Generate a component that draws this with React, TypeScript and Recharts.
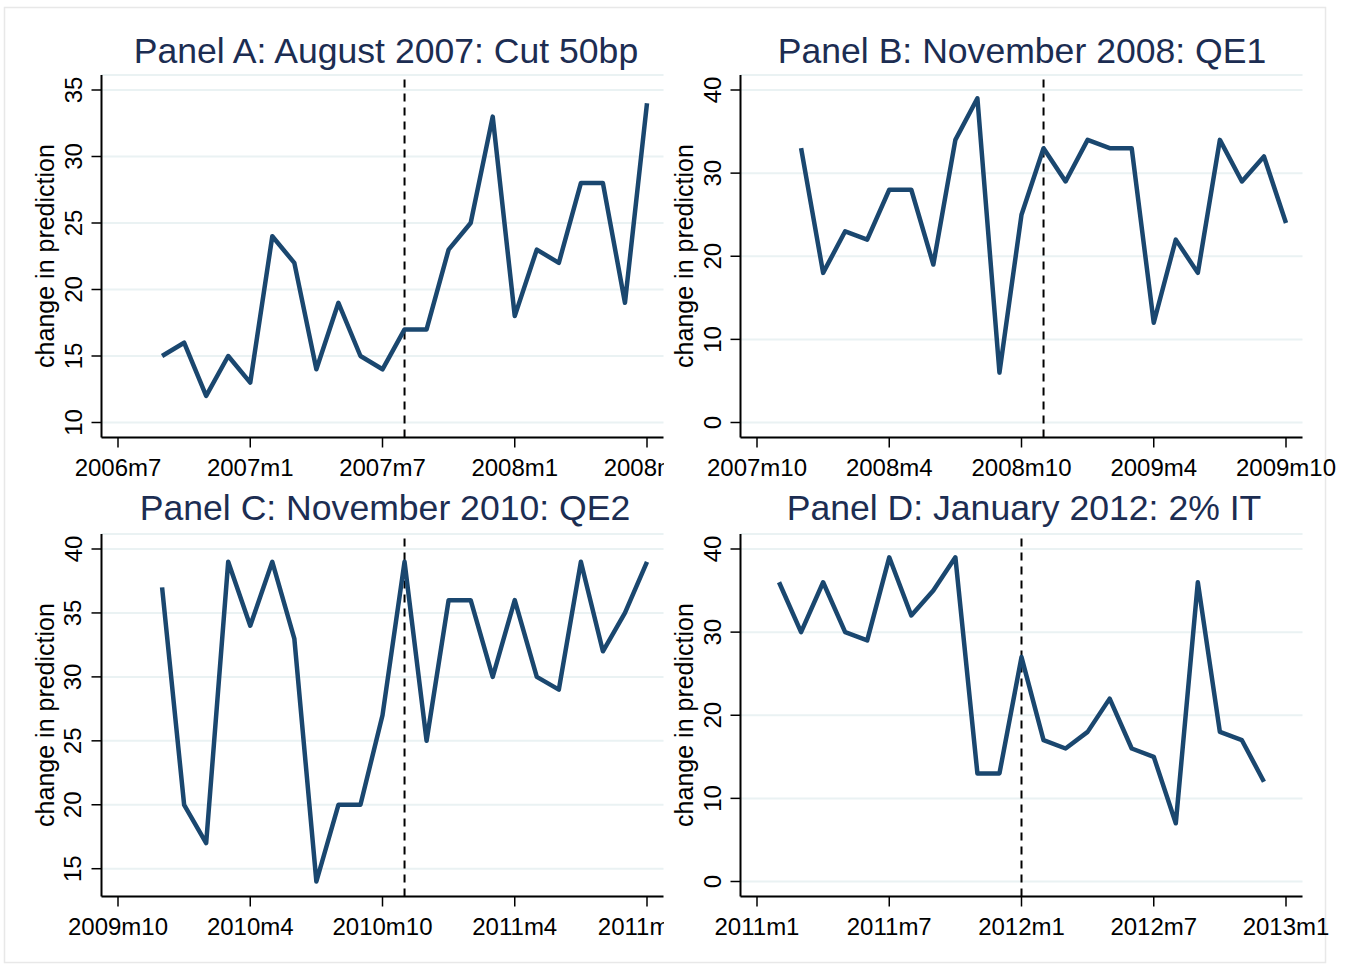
import React from "react";
import { LineChart, Line, XAxis, YAxis, CartesianGrid, ReferenceLine } from "recharts";

const FONT = "'Liberation Sans', Arial, Helvetica, sans-serif";
const NAVY = "#1a476f";
const TITLE_COLOR = "#1c2d52";
const GRID = "#eaf2f3";

// monthly values, consecutive months from the start month
const panelAStart = "2006m9";
const panelAValues = [15, 16, 12, 15, 13, 24, 22, 14, 19, 15, 14, 17, 17, 23, 25, 33, 18, 23, 22, 28, 28, 19, 34];
const panelAXTicks = ["2006m7", "2007m1", "2007m7", "2008m1", "2008m7"];
const panelAYTicks = [10, 15, 20, 25, 30, 35];

const panelBStart = "2007m12";
const panelBValues = [33, 18, 23, 22, 28, 28, 19, 34, 39, 6, 25, 33, 29, 34, 33, 33, 12, 22, 18, 34, 29, 32, 24];
const panelBXTicks = ["2007m10", "2008m4", "2008m10", "2009m4", "2009m10"];
const panelBYTicks = [0, 10, 20, 30, 40];

const panelCStart = "2009m12";
const panelCValues = [37, 20, 17, 39, 34, 39, 33, 14, 20, 20, 27, 39, 25, 36, 36, 30, 36, 30, 29, 39, 32, 35, 39];
const panelCXTicks = ["2009m10", "2010m4", "2010m10", "2011m4", "2011m10"];
const panelCYTicks = [15, 20, 25, 30, 35, 40];

const panelDStart = "2011m2";
const panelDValues = [36, 30, 36, 30, 29, 39, 32, 35, 39, 13, 13, 27, 17, 16, 18, 22, 16, 15, 7, 36, 18, 17, 12];
const panelDXTicks = ["2011m1", "2011m7", "2012m1", "2012m7", "2013m1"];
const panelDYTicks = [0, 10, 20, 30, 40];

const monthIndex = (s: string) => {
  const [y, m] = s.split("m").map(Number);
  return y * 12 + m - 1;
};
const monthLabel = (i: number) => `${Math.floor(i / 12)}m${(i % 12) + 1}`;

const XTick = (props: any) => {
  const { x, y, payload } = props;
  return (
    <text x={x} y={y + 17} textAnchor="middle" fontSize={24} fontFamily={FONT} fill="#000">
      {monthLabel(payload.value)}
    </text>
  );
};

const YTick = (props: any) => {
  const { x, y, payload } = props;
  return (
    <text
      x={x}
      y={y}
      transform={`rotate(-90 ${x} ${y})`}
      textAnchor="middle"
      fontSize={24}
      fontFamily={FONT}
      fill="#000"
    >
      {payload.value}
    </text>
  );
};

type PanelProps = {
  left: number;
  top: number;
  width: number;
  start: string;
  values: number[];
  xTicks: string[];
  yTicks: number[];
  event: string;
};

function Panel({ left, top, width, start, values, xTicks, yTicks, event }: PanelProps) {
  const s = monthIndex(start);
  const data = values.map((v, i) => ({ t: s + i, v }));
  const xt = xTicks.map(monthIndex);
  const lo = Math.min(...values, ...yTicks);
  const hi = Math.max(...values, ...yTicks);
  return (
    <div style={{ position: "absolute", left, top, width, height: 500, overflow: "hidden" }}>
      <LineChart
        width={width}
        height={500}
        data={data}
        margin={{ top: 75, left: 0, right: width - 663.5, bottom: 12.5 }}
      >
        <CartesianGrid horizontal vertical={false} stroke={GRID} strokeWidth={2} />
        <XAxis
          type="number"
          dataKey="t"
          domain={[xt[0], xt[xt.length - 1]]}
          ticks={xt}
          interval={0}
          padding={{ left: 16.5, right: 16.5 }}
          height={50}
          tick={<XTick />}
          tickSize={10}
          tickMargin={11}
          axisLine={{ stroke: "#000", strokeWidth: 2 }}
          tickLine={{ stroke: "#000", strokeWidth: 1.5 }}
        />
        <YAxis
          type="number"
          domain={[lo, hi]}
          ticks={yTicks}
          interval={0}
          padding={{ top: 15, bottom: 15 }}
          width={101.5}
          tick={<YTick />}
          tickSize={10}
          tickMargin={10}
          axisLine={{ stroke: "#000", strokeWidth: 2 }}
          tickLine={{ stroke: "#000", strokeWidth: 1.5 }}
        />
        <ReferenceLine x={monthIndex(event)} stroke="#000" strokeWidth={2} strokeDasharray="8 6" />
        <Line
          type="linear"
          dataKey="v"
          stroke={NAVY}
          strokeWidth={4.5}
          strokeLinejoin="round"
          dot={false}
          isAnimationActive={false}
        />
      </LineChart>
    </div>
  );
}

const titles = [
  { text: "Panel A: August 2007: Cut 50bp", x: 386, y: 63 },
  { text: "Panel B: November 2008: QE1", x: 1022, y: 63 },
  { text: "Panel C: November 2010: QE2", x: 385, y: 520 },
  { text: "Panel D: January 2012: 2% IT", x: 1024, y: 520 },
];

const yLabels = [
  { x: 54, y: 256 },
  { x: 692.5, y: 256 },
  { x: 54, y: 715 },
  { x: 692.5, y: 715 },
];

export default function App() {
  return (
    <div style={{ position: "absolute", left: 0, top: 0, width: 1353, height: 965, background: "#fff" }}>
      <svg width={1353} height={965} style={{ position: "absolute", left: 0, top: 0 }}>
        <rect x={4.5} y={7.5} width={1321} height={955} fill="#fff" stroke="#e8e8e8" strokeWidth={1.5} />
        {titles.map((t) => (
          <text key={t.text} x={t.x} y={t.y} textAnchor="middle" fontSize={35.6} fontFamily={FONT} fill={TITLE_COLOR}>
            {t.text}
          </text>
        ))}
        {yLabels.map((l, i) => (
          <text
            key={i}
            x={l.x}
            y={l.y}
            transform={`rotate(-90 ${l.x} ${l.y})`}
            textAnchor="middle"
            fontSize={25}
            fontFamily={FONT}
            fill="#000"
          >
            change in prediction
          </text>
        ))}
      </svg>
      <Panel left={0} top={0} width={663.5} start={panelAStart} values={panelAValues} xTicks={panelAXTicks} yTicks={panelAYTicks} event="2007m8" />
      <Panel left={638.5} top={0} width={714.5} start={panelBStart} values={panelBValues} xTicks={panelBXTicks} yTicks={panelBYTicks} event="2008m11" />
      <Panel left={0} top={459} width={663.5} start={panelCStart} values={panelCValues} xTicks={panelCXTicks} yTicks={panelCYTicks} event="2010m11" />
      <Panel left={638.5} top={459} width={714.5} start={panelDStart} values={panelDValues} xTicks={panelDXTicks} yTicks={panelDYTicks} event="2012m1" />
    </div>
  );
}
